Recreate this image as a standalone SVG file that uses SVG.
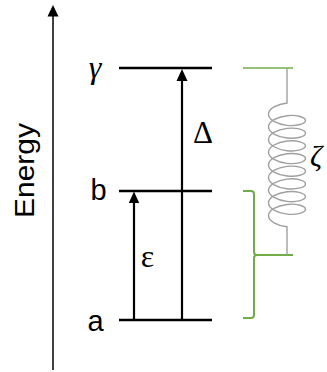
<svg xmlns="http://www.w3.org/2000/svg" width="327" height="372" viewBox="0 0 327 372">
<style>
.lvl{stroke:#000;stroke-width:2.5;fill:none}
.arr{stroke:#000;stroke-width:2.2;fill:none}
.head{fill:#000;stroke:none}
.sans{font-family:"Liberation Sans",Arial,sans-serif;fill:#000}
.serif{font-family:"Liberation Serif","Times New Roman",serif;fill:#000}
.green{stroke:#70AD47;stroke-width:2;fill:none}
.spring{stroke:#A0A0A0;stroke-width:1.4;fill:none}
</style>
<rect width="327" height="372" fill="#fff"/>
<g id="axis">
<line x1="53" y1="370" x2="53" y2="15" stroke="#000" stroke-width="1.5"/>
<polygon class="head" points="53,5 47.5,16.5 58.5,16.5"/>
<text class="sans" font-size="28" text-anchor="middle" textLength="95" lengthAdjust="spacingAndGlyphs" transform="translate(34,170.5) rotate(-90)">Energy</text>
</g>
<g id="level-gamma">
<line class="lvl" x1="119" y1="68" x2="212" y2="68"/>
<text class="serif" font-size="32" font-style="italic" text-anchor="middle" x="95" y="78">γ</text>
</g>
<g id="level-b">
<line class="lvl" x1="119" y1="191" x2="212" y2="191"/>
<text class="sans" font-size="29" text-anchor="middle" x="98.5" y="200">b</text>
</g>
<g id="level-a">
<line class="lvl" x1="119" y1="320" x2="212" y2="320"/>
<text class="sans" font-size="29" text-anchor="middle" x="95.5" y="331">a</text>
</g>
<g id="connectors">
<line class="arr" x1="134" y1="320" x2="134" y2="200"/>
<polygon class="head" points="134,191.5 128.8,203 139.2,203"/>
<line class="arr" x1="182" y1="320" x2="182" y2="78"/>
<polygon class="head" points="182,69 176.5,81 187.5,81"/>
</g>
<g id="label-epsilon">
<text class="serif" font-size="32" text-anchor="middle" x="147.5" y="267">ε</text>
</g>
<g id="label-delta">
<text class="serif" font-size="31" text-anchor="middle" x="203" y="143">Δ</text>
</g>
<g id="bracket">
<line x1="243" y1="68" x2="293" y2="68" stroke="#70AD47" stroke-width="1.6"/>
<path class="green" d="M243,191 H251 Q254,191 254,194 V252 Q254,255 257,255 H293 M257,255 Q254,255 254,258 V315 Q254,318 251,318 H243"/>
</g>
<g id="spring">
<path class="spring" d="M287,68 V103
c -9.99,1.09 -18.5,5.76 -18.5,11.17 c 0,5.41 8.51,10.08 18.5,11.17 c 9.99,1.09 18.5,-1.6 18.5,-4.83 c 0,-3.23 -8.51,-5.92 -18.5,-4.83
c -9.99,1.09 -18.5,5.76 -18.5,11.17 c 0,5.41 8.51,10.08 18.5,11.17 c 9.99,1.09 18.5,-1.6 18.5,-4.83 c 0,-3.23 -8.51,-5.92 -18.5,-4.83
c -9.99,1.09 -18.5,5.76 -18.5,11.17 c 0,5.41 8.51,10.08 18.5,11.17 c 9.99,1.09 18.5,-1.6 18.5,-4.83 c 0,-3.23 -8.51,-5.92 -18.5,-4.83
c -9.99,1.09 -18.5,5.76 -18.5,11.17 c 0,5.41 8.51,10.08 18.5,11.17 c 9.99,1.09 18.5,-1.6 18.5,-4.83 c 0,-3.23 -8.51,-5.92 -18.5,-4.83
c -9.99,1.09 -18.5,5.76 -18.5,11.17 c 0,5.41 8.51,10.08 18.5,11.17 c 9.99,1.09 18.5,-1.6 18.5,-4.83 c 0,-3.23 -8.51,-5.92 -18.5,-4.83
c -9.99,1.09 -18.5,5.76 -18.5,11.17 c 0,5.41 8.51,10.08 18.5,11.17 c 9.99,1.09 18.5,-1.6 18.5,-4.83 c 0,-3.23 -8.51,-5.92 -18.5,-4.83
c -9.99,1.09 -18.5,5.76 -18.5,11.17 c 0,5.41 8.51,10.08 18.5,11.17 c 9.99,1.09 18.5,-1.6 18.5,-4.83 c 0,-3.23 -8.51,-5.92 -18.5,-4.83
c -9.99,1.09 -18.5,5.76 -18.5,11.17 c 0,5.41 8.51,10.08 18.5,11.17 c 9.99,1.09 18.5,-1.6 18.5,-4.83 c 0,-3.23 -8.51,-5.92 -18.5,-4.83
c -9.99,1.09 -18.5,5.76 -18.5,11.17 c 0,5.41 8.51,10.08 18.5,11.17
V255"/>
<text class="serif" font-size="30" font-style="italic" x="310" y="166">ζ</text>
</g>
</svg>
